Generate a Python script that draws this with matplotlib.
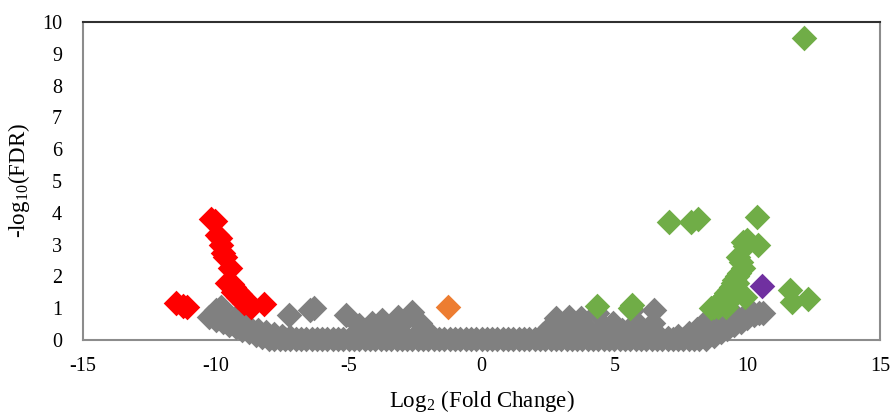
import matplotlib
matplotlib.use("Agg")
from matplotlib import pyplot as plt

plt.rcParams['font.family'] = ['Liberation Serif', 'DejaVu Serif']
plt.rcParams['mathtext.fontset'] = 'stix'

# dense band of non-significant genes sitting on the axis
base_x = [-8.0, -7.8, -7.6, -7.4, -7.2, -7.0, -6.8, -6.6, -6.4, -6.2,
          -6.0, -5.8, -5.6, -5.4, -5.2, -5.0, -4.8, -4.6, -4.4, -4.2,
          -4.0, -3.8, -3.6, -3.4, -3.2, -3.0, -2.8, -2.6, -2.4, -2.2,
          -2.0, -1.8, -1.6, -1.4, -1.2, -1.0, -0.8, -0.6, -0.4, -0.2,
          0.0, 0.2, 0.4, 0.6, 0.8, 1.0, 1.2, 1.4, 1.6, 1.8,
          2.0, 2.2, 2.4, 2.6, 2.8, 3.0, 3.2, 3.4, 3.6, 3.8,
          4.0, 4.2, 4.4, 4.6, 4.8, 5.0, 5.2, 5.4, 5.6, 5.8,
          6.0, 6.2, 6.4, 6.6, 6.8, 7.0, 7.2, 7.4, 7.6, 7.8,
          8.0, 8.2, 8.45]
base_y = [0.03] * len(base_x)

# the rest of the grey (not significant) points
grey_x = [-10.25, -10.0, -9.75, -9.5, -9.25, -9.0, -8.75, -8.5, -8.25,
          -9.6, -9.3, -9.0, -8.7, -8.4, -8.1, -7.8, -7.5, -7.2,
          -10.0, -9.8, -9.1, -7.23, -6.47, -6.3,
          -5.1, -4.6, -4.4, -4.14, -3.9, -3.73, -3.45, -3.16, -2.9, -2.63, -2.33, -2.0,
          2.3, 2.56, 2.82, 3.0, 3.31, 3.5, 3.76, 4.0, 4.33, 4.6, 4.93, 5.3, 5.65, 5.83,
          6.06, 6.44, 6.5, 7.0, 7.4, 7.8, 8.1, 8.35, 8.6,
          8.75, 9.0, 9.25, 9.5, 9.75, 10.0, 10.25, 10.45, 10.6,
          9.3, 9.6, 9.9, 10.2]
grey_y = [0.72, 0.64, 0.56, 0.48, 0.40, 0.32, 0.24, 0.16, 0.09,
          0.56, 0.50, 0.44, 0.38, 0.32, 0.26, 0.20, 0.14, 0.08,
          0.94, 1.05, 0.85, 0.78, 0.94, 1.0,
          0.79, 0.47, 0.30, 0.53, 0.30, 0.63, 0.45, 0.72, 0.60, 0.88, 0.53, 0.25,
          0.20, 0.41, 0.69, 0.40, 0.72, 0.45, 0.69, 0.35, 0.85, 0.40, 0.53, 0.30, 0.94, 0.57,
          0.25, 0.53, 0.94, 0.05, 0.12, 0.22, 0.35, 0.50, 0.65,
          0.14, 0.25, 0.36, 0.47, 0.58, 0.69, 0.78, 0.84, 0.86,
          0.60, 0.72, 0.80, 0.85]

# up-regulated
up_x = [12.12, 7.04, 7.87, 8.13, 10.35, 4.33, 5.65, 5.6,
        9.83, 10.0, 10.4, 9.9, 9.64, 9.75, 9.83, 9.7, 9.6, 9.52, 9.45, 9.4,
        9.3, 9.22, 9.15, 9.05, 8.96, 8.85, 8.75, 8.65,
        9.2, 9.4, 9.5, 9.3, 9.1, 8.9, 9.6, 9.9,
        11.6, 11.7, 12.27]
up_y = [9.5, 3.71, 3.71, 3.8, 3.87, 1.07, 1.1, 1.02,
        3.08, 3.15, 2.99, 2.95, 2.61, 2.45, 2.26, 2.1, 2.0, 1.89, 1.78, 1.68,
        1.57, 1.48, 1.38, 1.3, 1.22, 1.12, 1.05, 1.0,
        1.05, 1.3, 1.55, 1.4, 1.2, 1.05, 1.8, 1.35,
        1.57, 1.2, 1.3]

# down-regulated
down_x = [-10.2, -10.05, -9.94, -9.86, -9.79, -9.74, -9.65, -9.48,
          -9.6, -9.4, -9.3, -9.2, -9.1, -9.0, -8.9, -8.85, -8.73, -8.66,
          -9.35, -9.15, -8.95, -8.17,
          -11.5, -11.25, -11.1]
down_y = [3.8, 3.75, 3.3, 3.2, 3.0, 2.75, 2.6, 2.26,
          1.79, 1.75, 1.67, 1.55, 1.45, 1.35, 1.25, 1.26, 1.1, 1.04,
          1.5, 1.35, 1.15, 1.12,
          1.17, 1.08, 1.05]

other1_x = [-1.28]
other1_y = [1.04]
other2_x = [10.54]
other2_y = [1.7]

fig = plt.figure(figsize=(8.91, 4.15), dpi=100)
ax = fig.add_axes([0.0932, 0.1807, 0.8945, 0.7663])

ms = 170
ax.scatter(base_x, base_y, s=ms, marker='D', color="#808080", linewidths=0, clip_on=False, zorder=3)
ax.scatter(grey_x, grey_y, s=ms, marker='D', color="#808080", linewidths=0, clip_on=False, zorder=3)
ax.scatter(up_x, up_y, s=ms, marker='D', color="#70AD47", linewidths=0, clip_on=False, zorder=4)
ax.scatter(down_x, down_y, s=ms, marker='D', color="#FF0000", linewidths=0, clip_on=False, zorder=4)
ax.scatter(other1_x, other1_y, s=ms, marker='D', color="#ED7D31", linewidths=0, clip_on=False, zorder=5)
ax.scatter(other2_x, other2_y, s=ms, marker='D', color="#7030A0", linewidths=0, clip_on=False, zorder=5)

ax.set_xlim(-15, 15)
ax.set_ylim(0, 10)
ax.set_xticks([-15, -10, -5, 0, 5, 10, 15])
ax.set_xticklabels(["-15", "-10", "-5", "0", "5", "10", "15"])
ax.set_yticks(range(0, 11))
ax.tick_params(length=0, labelsize=14.5)
ax.tick_params(axis='y', pad=15)
ax.tick_params(axis='x', pad=12)
for side in ['left', 'right', 'bottom']:
    ax.spines[side].set_color("#8c8c8c")
    ax.spines[side].set_linewidth(1.5)
ax.spines['top'].set_color("#303030")
ax.spines['top'].set_linewidth(1.5)

ax.set_xlabel("Log$_{\\mathregular{2}}$ (Fold Change)", fontsize=16.5, labelpad=9)
ax.set_ylabel("-log$_{\\mathregular{10}}$(FDR)", fontsize=16.5, labelpad=7)

fig.savefig("out.png", dpi=100)
